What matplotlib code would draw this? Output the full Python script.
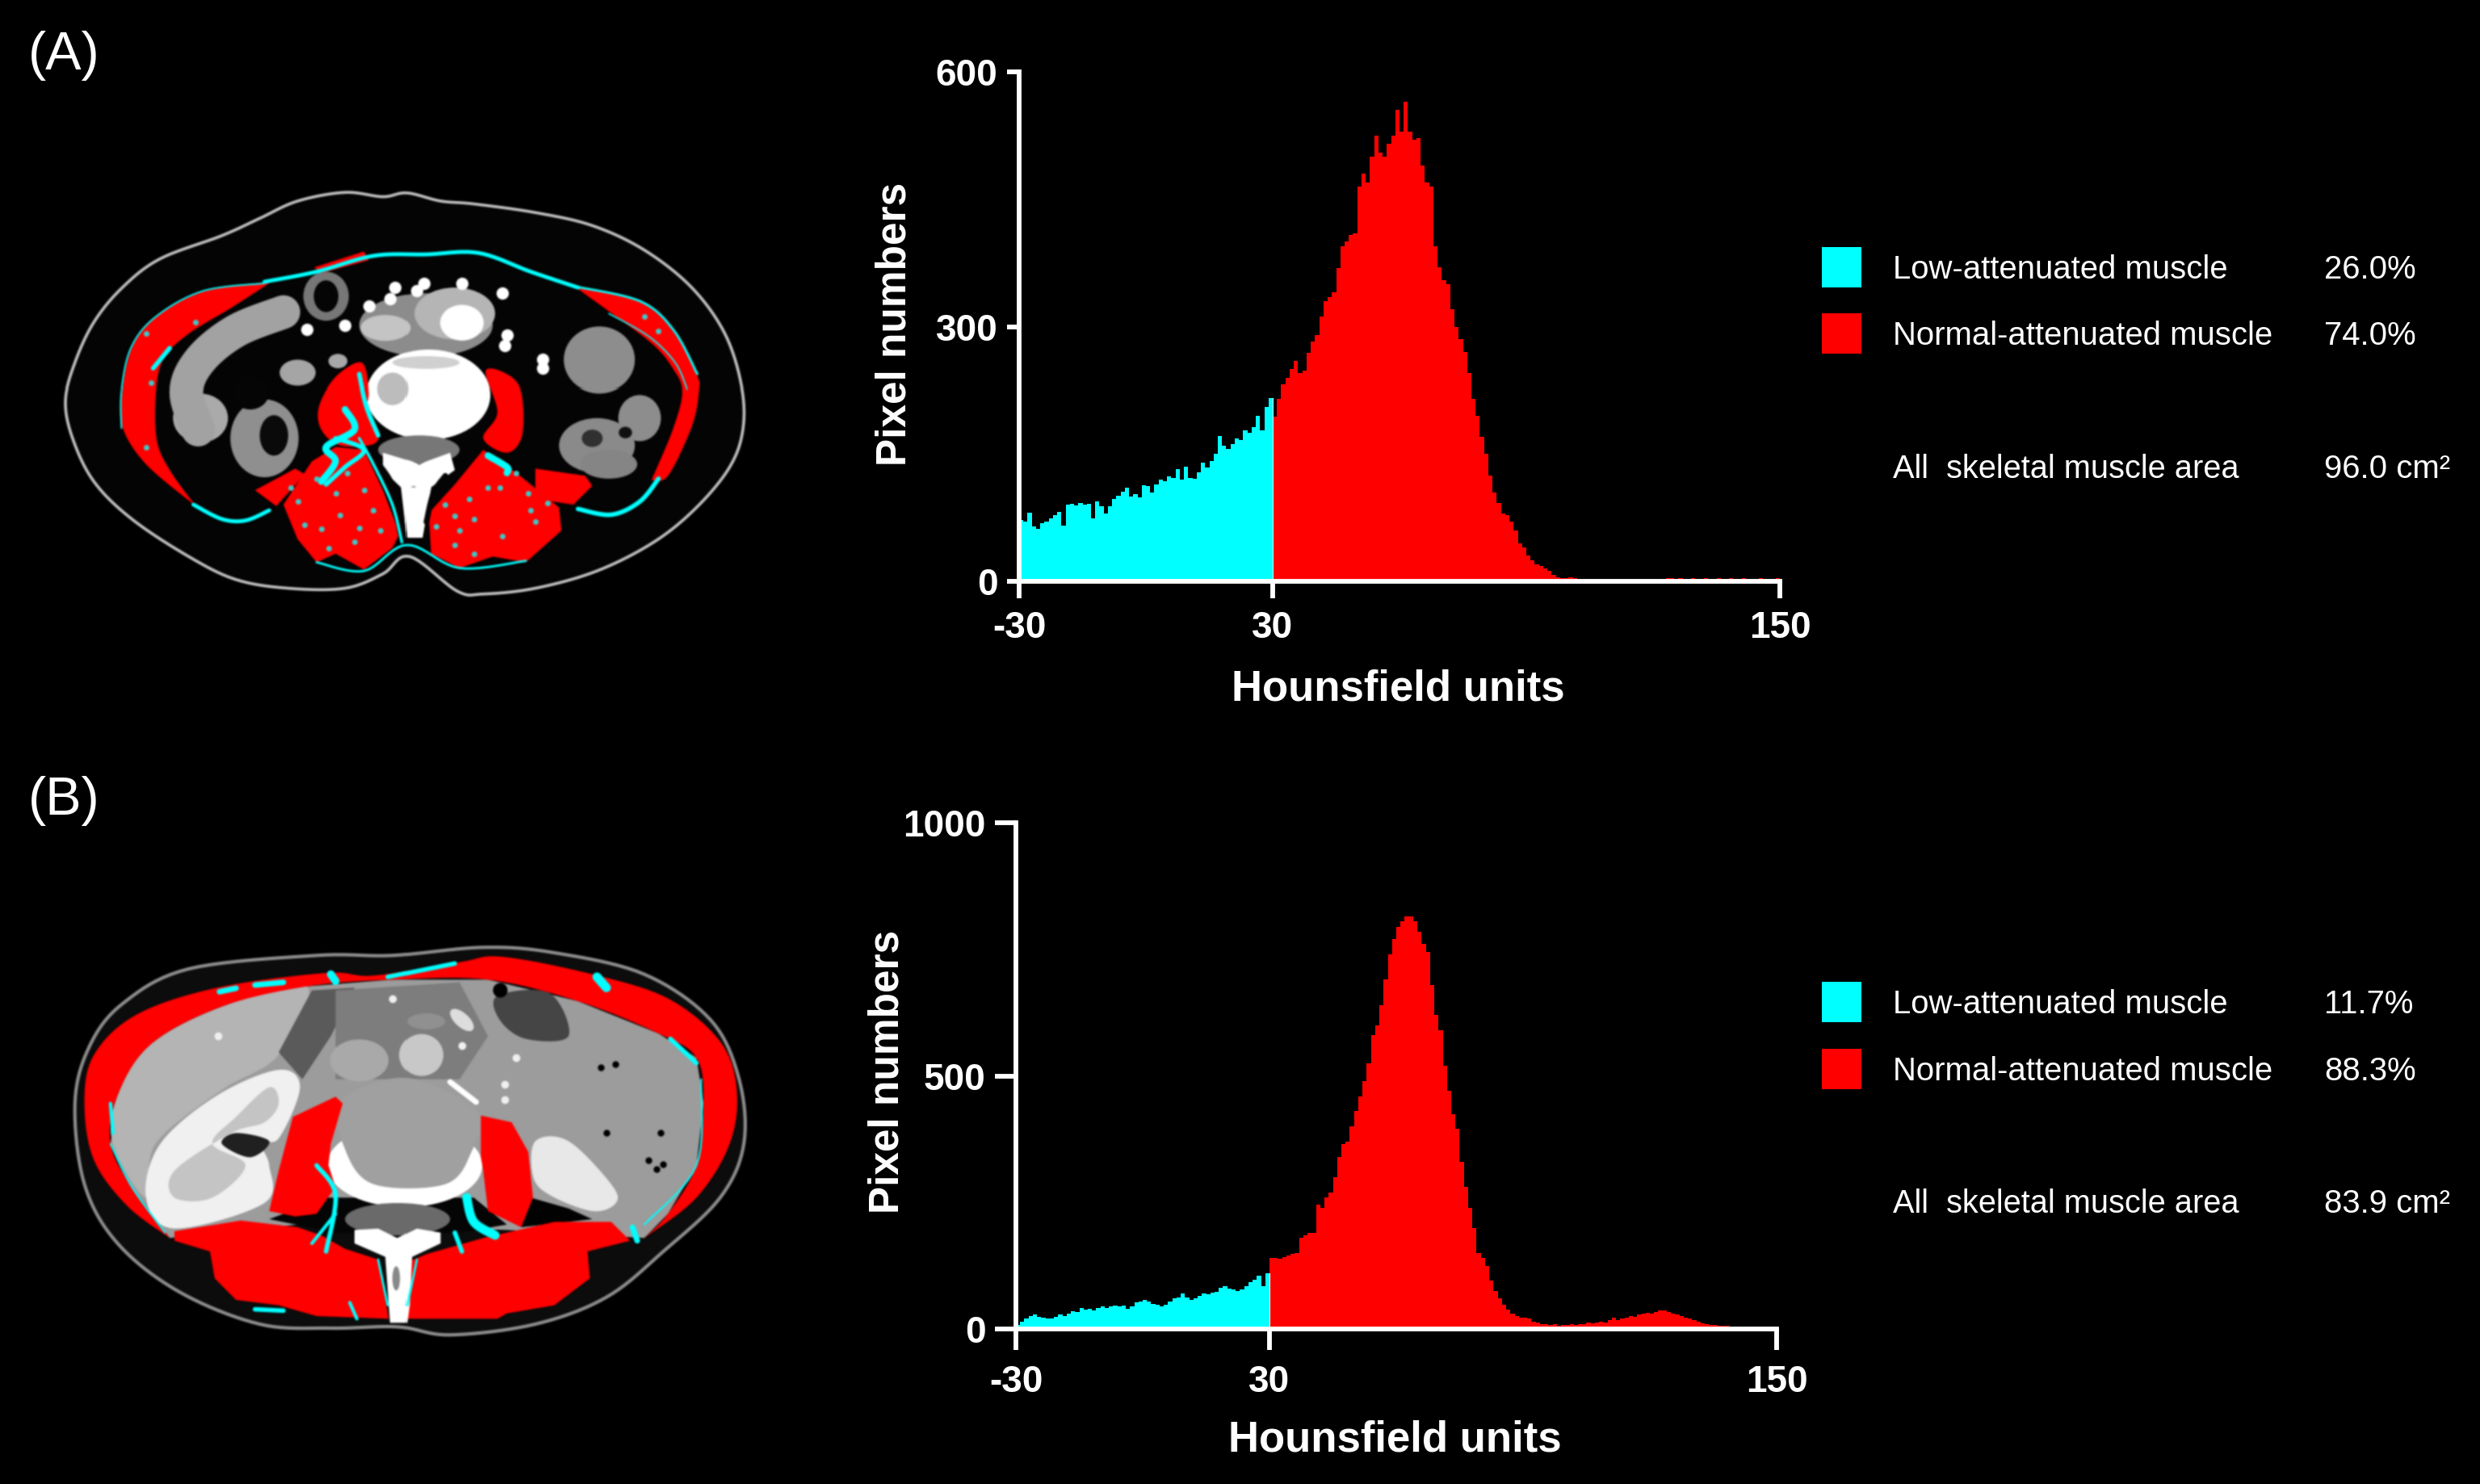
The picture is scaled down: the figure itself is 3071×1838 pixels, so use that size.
import numpy as np
import matplotlib
matplotlib.use("Agg")
import matplotlib.pyplot as plt
from matplotlib.patches import Ellipse, Polygon, Rectangle

W, H = 3071, 1838
plt.rcParams['font.family'] = ['Liberation Sans', 'DejaVu Sans']
plt.rcParams['axes.unicode_minus'] = False

CYAN = '#00FFFF'
RED = '#FF0000'

# ---------- histogram data (pixel counts per 1 HU bin) ----------
a_low = [72,70,81,65,62,68,70,74,78,82,
         66,90,91,89,92,90,91,74,94,88,
         80,88,97,101,106,110,100,103,99,113,
         112,105,114,120,118,124,122,132,120,135,
         122,121,128,140,134,142,150,171,160,156,
         162,168,166,178,175,182,195,178,205,216]
a_high = [194,215,232,240,250,260,245,248,269,282,
          290,312,330,335,340,369,395,400,408,410,
          465,480,470,500,525,505,500,515,525,555,
          530,565,530,520,522,490,470,465,395,370,
          355,350,320,300,285,270,245,215,195,170,
          150,125,105,92,80,78,70,60,45,40,
          30,25,20,18,15,12,8,5,4,4,
          5,4,3,2,2,1,1,1,1,0,
          1,1,0,1,1,0,1,1,1,1,
          1,1,3,4,4,3,4,3,3,4,
          3,3,4,3,3,4,3,3,4,3,
          3,4,3,3,3,4,3,3,3,4]
b_low = [8,15,20,25,28,24,22,20,20,24,
         28,25,30,35,33,42,38,40,36,42,
         45,42,44,46,44,46,40,45,52,55,
         58,55,50,48,45,48,55,60,62,70,
         62,58,60,66,70,68,72,74,82,84,
         80,78,75,78,85,92,98,105,85,110]
b_high = [140,140,138,142,145,148,150,180,185,190,
          190,245,240,260,270,300,340,365,370,400,
          430,460,490,525,580,600,640,690,740,770,
          795,805,815,815,805,785,760,745,680,620,
          590,520,470,425,395,330,280,240,200,150,
          140,125,95,75,60,48,38,30,25,22,
          22,20,15,12,10,9,8,9,7,8,
          8,9,8,9,10,12,11,12,15,12,
          18,22,18,20,22,26,24,28,30,32,
          30,34,36,36,34,30,28,26,22,20,
          18,14,11,10,8,8,7,7,6,5,
          4,3,3,2,2,2,2,1,1,4]

x_ticks = [-30, 30, 150]
a_yticks = [0, 300, 600]
b_yticks = [0, 500, 1000]
legend_names = ['Low-attenuated muscle', 'Normal-attenuated muscle']
a_pct = ['26.0%', '74.0%']
b_pct = ['11.7%', '88.3%']
a_area = '96.0 cm\u00b2'
b_area = '83.9 cm\u00b2'

fig = plt.figure(figsize=(W/100, H/100), dpi=100, facecolor='black')


def T(x, y, s, **kw):
    kw.setdefault('color', 'white')
    kw.setdefault('va', 'center')
    fig.text(x/W, 1-y/H, s, **kw)


def px_axes(x0, y0, x1, y1):
    return fig.add_axes([x0/W, 1-y1/H, (x1-x0)/W, (y1-y0)/H])


def hist_panel(box, low, high, ymax, yticks, ytick_len, xtick_len, xpad, xlab_y, ylab_x, ylab_y, xlab_x):
    ax = px_axes(*box)
    ax.set_facecolor('black')
    ax.stairs(low, -30 + np.arange(len(low)+1), fill=True, color=CYAN, lw=0)
    ax.stairs(high, 30 + np.arange(len(high)+1), fill=True, color=RED, lw=0)
    ax.plot([30, 30], [0, low[-1]], color='#dddddd', lw=0.9)
    ax.set_xlim(-30, 150)
    ax.set_ylim(0, ymax)
    ax.set_xticks(x_ticks)
    ax.set_yticks(yticks)
    for s in ('top', 'right'):
        ax.spines[s].set_visible(False)
    for s in ('left', 'bottom'):
        ax.spines[s].set_color('white')
        ax.spines[s].set_linewidth(4.2)
    ax.tick_params(axis='x', length=xtick_len, width=4.2, color='white', labelcolor='white',
                   labelsize=33, pad=xpad)
    ax.tick_params(axis='y', length=ytick_len, width=4.2, color='white', labelcolor='white',
                   labelsize=33, pad=8)
    for lab in ax.get_xticklabels() + ax.get_yticklabels():
        lab.set_fontweight('bold')
    T(xlab_x, xlab_y, 'Hounsfield units', ha='center', fontsize=38, fontweight='bold')
    T(ylab_x, ylab_y, 'Pixel numbers', ha='center', rotation=90, fontsize=37, fontweight='bold')
    return ax


hist_panel((1262, 89, 2204, 720), a_low, a_high, 600, a_yticks, 11, 15, 11, 854, 1108, 401, 1731)
hist_panel((1258, 1019, 2200, 1646), b_low, b_high, 1000, b_yticks, 19, 19, 13, 1784, 1099, 1327, 1727)


def legend(ys, pct, area):
    for y, col, name, p in zip(ys[:2], (CYAN, RED), legend_names, pct):
        fig.patches.append(Rectangle((2256/W, 1-(y+25)/H), 49/W, 50/H, transform=fig.transFigure,
                                     facecolor=col, edgecolor='none'))
        T(2344, y+3, name, fontsize=28.9)
        T(2878, y+3, p, fontsize=28.9)
    T(2344, ys[2]+3, 'All  skeletal muscle area', fontsize=28.6)
    T(2878, ys[2]+3, area, fontsize=28.9)


legend((331, 413, 578), a_pct, a_area)
legend((1241, 1324, 1488), b_pct, b_area)

T(35, 69, '(A)', fontsize=48)
T(35, 992, '(B)', fontsize=48)


# ---------- schematic CT slices, drawn in crop coordinates ----------
def smooth(pts, closed=True, n=10):
    p = np.asarray(pts, float)
    m = len(p)
    out = []
    rng = range(m) if closed else range(m-1)
    for i in rng:
        if closed:
            p0, p1, p2, p3 = p[(i-1) % m], p[i], p[(i+1) % m], p[(i+2) % m]
        else:
            p0, p1, p2, p3 = p[max(i-1, 0)], p[i], p[i+1], p[min(i+2, m-1)]
        for t in np.linspace(0, 1, n, endpoint=False):
            out.append(0.5*((2*p1) + (-p0+p2)*t + (2*p0-5*p1+4*p2-p3)*t**2 + (-p0+3*p1-3*p2+p3)*t**3))
    if not closed:
        out.append(p[-1])
    return np.array(out)


def blob(ax, pts, color, sm=True):
    xy = smooth(pts) if sm else np.asarray(pts)
    ax.add_patch(Polygon(xy, closed=True, facecolor=color, edgecolor='none', lw=0))


def band(ax, outer, inner, color):
    xy = np.vstack([smooth(outer, closed=False), smooth(inner, closed=False)[::-1]])
    ax.add_patch(Polygon(xy, closed=True, facecolor=color, edgecolor='none', lw=0))


def ell(ax, x, y, rx, ry, color, angle=0):
    ax.add_patch(Ellipse((x, y), 2*rx, 2*ry, angle=angle, facecolor=color, edgecolor='none'))


def line(ax, pts, color=CYAN, lw=3, sm=True):
    xy = smooth(pts, closed=False) if sm else np.asarray(pts)
    ax.plot(xy[:, 0], xy[:, 1], color=color, lw=lw, solid_capstyle='round')


def dots(ax, pts, color, size):
    a = np.asarray(pts)
    ax.plot(a[:, 0], a[:, 1], ls='none', marker='o', ms=size, mfc=color, mec='none')


def ct_canvas(w, h, ymax):
    f = plt.figure(figsize=(w/100, h/100), dpi=100, facecolor='black')
    a = f.add_axes([0, 0, 1, 1])
    a.set_xlim(0, 1568); a.set_ylim(ymax, 0); a.axis('off')
    return f, a


def place_ct(f, box):
    f.canvas.draw()
    img = np.asarray(f.canvas.buffer_rgba())[:, :, :3].astype(float)
    k = [(-2, 1), (-1, 4), (0, 6), (1, 4), (2, 1)]
    for axis in (0, 1):
        img = sum(wt*np.roll(img, s, axis=axis) for s, wt in k)/16
    plt.close(f)
    ax = px_axes(*box)
    ax.imshow(img.astype(np.uint8), aspect='auto', interpolation='nearest')
    ax.axis('off')


# ----- slice A -----
fa, ca = ct_canvas(920, 560, 1568)
body_a = [(70,830),(90,700),(130,560),(190,440),(270,340),(400,260),(480,200),(560,140),(660,110),
          (740,125),(790,112),(860,140),(930,150),(1060,180),(1180,225),(1290,310),(1390,440),(1460,600),
          (1495,780),(1498,930),(1470,1060),(1400,1200),(1310,1320),(1190,1420),(1060,1480),(950,1500),
          (895,1490),(795,1370),(740,1430),(660,1480),(540,1480),(430,1450),(330,1370),(210,1240),(130,1110),(85,960)]
ca.add_patch(Polygon(smooth(body_a), closed=True, facecolor='#040404', edgecolor='#c0c0c0', lw=2.6))
# bowel and viscera
line(ca, [(530,525),(430,590),(355,690),(325,800),(350,930)], '#a2a2a2', 30)
for e in [(355,890,58,85,'#aaaaaa'),(490,960,72,135,'#8f8f8f'),(500,535,55,32,'#a6a6a6'),
          (560,735,38,45,'#a5a5a5'),(645,695,20,25,'#a8a8a8'),
          (1195,690,75,115,'#8d8d8d'),(1280,890,45,80,'#8d8d8d'),(1190,985,80,95,'#8a8a8a'),(1215,1050,60,50,'#858585'),
          (830,570,140,110,'#8c8c8c'),(745,580,52,45,'#c4c4c4'),(890,530,85,90,'#b5b5b5'),(905,562,46,62,'#ffffff'),
          (620,470,48,85,'#777777'),(620,470,26,55,'#050505'),(510,950,30,70,'#0a0a0a'),
          (460,800,40,60,'#050505'),(1180,960,22,30,'#303030'),(1250,940,14,20,'#101010')]:
    ell(ca, *e)
dots(ca, [(710,505),(755,480),(810,450),(580,585),(660,570),(995,640),(990,460),(765,440),(825,425),(905,425),(1000,605),(1075,690),(1075,720)],
     'white', 11)
# bone
ell(ca, 835, 810, 130, 155, 'white')
ell(ca, 760, 790, 32, 55, '#bcbcbc')
ell(ca, 830, 700, 70, 22, '#d0d0d0')
ell(ca, 815, 1000, 85, 50, '#777777')
blob(ca, [(740,1010),(800,1040),(815,1052),(830,1040),(880,1010),(890,1070),(840,1130),(822,1300),(790,1300),(778,1130),(740,1070)],
     'white', sm=False)
ell(ca, 803, 1150, 9, 25, '#888888')
# abdominal wall muscle
band(ca, [(500,420),(360,455),(260,545),(210,650),(190,800),(190,920),(240,1050),(345,1195)],
     [(500,425),(420,510),(330,600),(280,680),(262,780),(262,960),(290,1070),(345,1195)], RED)
band(ca, [(1150,440),(1280,490),(1350,590),(1400,740),(1405,800),(1390,920),(1340,1090),(1305,1105)],
     [(1150,445),(1230,540),(1310,640),(1350,720),(1370,800),(1350,930),(1305,1105)], RED)
blob(ca, [(595,370),(700,315),(710,345),(610,390)], RED, sm=False)
# psoas and paraspinal muscle
blob(ca, [(695,700),(710,800),(705,870),(730,930),(720,980),(650,985),(610,930),(605,850),(640,750)], RED)
blob(ca, [(955,730),(1000,740),(1030,800),(1032,950),(1000,1010),(950,960),(980,870)], RED)
blob(ca, [(555,1065),(470,1140),(515,1195),(575,1085)], RED, sm=False)
blob(ca, [(1060,1065),(1165,1090),(1180,1125),(1140,1190),(1060,1170)], RED, sm=False)
blob(ca, [(590,1040),(530,1190),(560,1310),(600,1390),(640,1360),(700,1415),(760,1340),(775,1290),(740,1140),(700,1000),(640,990)],
     RED, sm=False)
blob(ca, [(950,1000),(1020,1080),(1110,1200),(1115,1280),(1040,1390),(970,1370),(900,1410),(840,1360),(835,1220),(890,1120)],
     RED, sm=False)
# re-draw spinous process over muscle
blob(ca, [(780,1130),(840,1130),(822,1305),(790,1305)], 'white', sm=False)
line(ca, [(725,1040),(760,1130),(778,1290)], '#050505', 6)
line(ca, [(870,1090),(845,1150),(830,1250)], '#050505', 5)
# low-attenuation rim and mottling
for seg, w in [([(490,420),(600,385),(720,330),(830,325),(940,320),(1050,385),(1150,440)], 3.5),
               ([(340,1190),(400,1240),(450,1245),(500,1210)], 3.5),
               ([(1150,1205),(1220,1225),(1280,1180),(1320,1100)], 4),
               ([(490,425),(360,452),(260,542),(208,650),(188,800),(188,925)], 1.4),
               ([(1150,438),(1282,488),(1352,588),(1402,740)], 2),
               ([(1215,530),(1300,610),(1355,700),(1380,790)], 1.2),
               ([(255,720),(290,650)], 4),
               ([(690,740),(705,850),(730,950)], 4),
               ([(660,860),(680,930),(620,990),(640,1040),(610,1110)], 6),
               ([(640,960),(700,1000),(660,1060),(620,1120)], 4),
               ([(690,960),(720,1050),(760,1190),(780,1320)], 2.5),
               ([(960,1020),(1000,1060),(1000,1080)], 6),
               ([(600,1390),(700,1420),(790,1330),(900,1410),(1040,1385)], 2)]:
    line(ca, seg, CYAN, w)
dots(ca, [(560,1180),(575,1260),(610,1275),(650,1225),(680,1320),(720,1210),(735,1280),(640,1150),(600,1100),(665,1080),
          (850,1265),(890,1330),(930,1360),(920,1170),(985,1130),(1045,1150),(1085,1185),(1020,1080),(960,1130),(900,1280),
          (545,1130),(625,1340),(690,1270),(700,1140),(930,1240),(990,1300),(1060,1250),(1050,1210),(890,1230),(870,1190),
          (240,600),(345,560),(240,990),(250,770),(1290,540),(1320,590)],
     '#3ec8c8', 5)

place_ct(fa, (40, 200, 960, 760))

# ----- slice B -----
fb, cb = ct_canvas(920, 520, 1560)
body_b = [(90,650),(120,440),(190,280),(330,150),(600,100),(760,100),(950,70),(1100,90),(1290,170),(1430,340),
          (1490,560),(1500,800),(1450,1000),(1330,1200),(1210,1370),(1060,1470),(880,1510),(770,1480),(630,1485),
          (480,1470),(310,1350),(180,1170),(110,950)]
cb.add_patch(Polygon(smooth(body_b), closed=True, facecolor='#0c0c0c', edgecolor='#8c8c8c', lw=3))
ring_outer = [(290,1150),(200,1030),(130,860),(110,650),(130,470),(220,320),(390,220),(620,165),(720,175),(900,125),(990,105),
              (1180,170),(1340,260),(1450,420),(1485,600),(1470,800),(1400,1000),(1290,1150)]
ring_inner = [(290,1150),(210,960),(165,800),(180,620),(250,430),(400,290),(580,215),(760,190),(960,190),(1150,270),(1320,390),
              (1400,480),(1415,650),(1400,880),(1340,1060),(1290,1150)]
# contents first, then the ring over them
blob(cb, ring_inner + [(1000,1120),(560,1100)], '#9c9c9c', sm=False)
blob(cb, [(180,620),(250,430),(400,290),(580,215),(520,470),(400,600),(260,800),(240,1000),(170,800)], '#b4b4b4')
blob(cb, [(520,460),(590,230),(680,220),(630,400),(570,560)], '#5a5a5a', sm=False)
blob(cb, [(640,230),(900,200),(960,400),(900,560),(640,560)], '#7d7d7d', sm=False)
blob(cb, [(980,250),(1090,240),(1130,400),(1040,410),(985,340)], '#454545')
blob(cb, [(1050,1000),(1130,1040),(1180,1080),(1030,1110)], '#020202', sm=False)
blob(cb, [(620,1000),(500,1080),(640,1130),(900,1130),(1000,1100),(930,1000)], '#050505', sm=False)
ell(cb, 690, 490, 62, 78, '#a9a9a9')
ell(cb, 820, 470, 46, 78, '#c8c8c8')
ell(cb, 905, 340, 18, 45, '#dddddd', angle=-25)
ell(cb, 830, 345, 40, 30, '#909090')
line(cb, [(880,570),(935,645)], 'white', 5)
dots(cb, [(392,398),(1020,480),(905,435),(995,580),(995,635),(760,260)], '#f0f0f0', 7)
dots(cb, [(985,228)], 'black', 13)
dots(cb, [(1198,515),(1228,505),(1210,760),(1325,760),(1298,860),(1315,895),(1330,875)], 'black', 6)
# kidneys
blob(cb, [(520,525),(565,590),(520,780),(480,790),(500,880),(490,1020),(300,1115),(240,1000),(270,800),(390,620)], '#f0f0f0')
blob(cb, [(500,590),(520,650),(490,720),(420,760),(300,900),(300,1000),(380,1000),(450,880),(380,800),(430,700)], '#c4c4c4')
blob(cb, [(430,760),(500,790),(460,850),(400,800)], '#202020')
blob(cb, [(1060,790),(1130,790),(1220,950),(1230,1020),(1180,1050),(1090,990),(1055,920)], '#e8e8e8')
# vertebra
ell(cb, 785, 880, 163, 155, 'white')
blob(cb, [(650,640),(790,555),(940,680),(925,830),(870,950),(720,950),(660,820)], '#a0a0a0')
ell(cb, 770, 1080, 110, 60, '#6a6a6a')
band(cb, ring_outer, ring_inner, RED)
# posterior muscle
blob(cb, [(640,625),(655,650),(630,800),(625,880),(640,960),(600,1060),(555,1070),(500,1050),(520,900),(550,700)], RED, sm=False)
blob(cb, [(945,695),(1010,720),(1045,830),(1055,1000),(1030,1110),(960,1050),(950,900),(945,850)], RED, sm=False)
blob(cb, [(300,1125),(440,1085),(560,1110),(610,1140),(660,1190),(730,1230),(752,1450),(600,1440),(520,1400),(430,1380),(385,1300),
          (375,1200),(300,1160)], RED, sm=False)
blob(cb, [(785,1450),(790,1240),(830,1210),(950,1150),(1100,1090),(1220,1090),(1260,1160),(1170,1200),(1175,1300),(1100,1400),
          (1000,1430),(980,1450)], RED, sm=False)
blob(cb, [(680,1120),(730,1115),(770,1150),(810,1115),(860,1130),(860,1170),(800,1220),(795,1400),(790,1465),(755,1465),
          (745,1220),(680,1170)], 'white', sm=False)
ell(cb, 768, 1300, 8, 45, '#888888')
for seg, w in [([(165,650),(170,760)], 3), ([(1345,410),(1400,500)], 4), ([(1190,180),(1210,220)], 8),
               ([(630,170),(640,195)], 7), ([(395,235),(430,222)], 5), ([(470,210),(530,200)], 5),
               ([(750,180),(890,130)], 4), ([(600,880),(640,990),(620,1200)], 4), ([(640,1060),(590,1170)], 3),
               ([(915,1000),(930,1090),(975,1140)], 8), ([(890,1130),(905,1200)], 4),
               ([(470,1415),(530,1420)], 4), ([(730,1230),(750,1400)], 2), ([(810,1230),(790,1400)], 2),
               ([(1410,560),(1400,880),(1290,1100)], 1.5), ([(165,800),(210,960),(280,1130)], 1.5),
               ([(1265,1110),(1275,1160)], 5), ([(670,1390),(685,1450)], 3)]:
    line(cb, seg, CYAN, w)

place_ct(fb, (40, 1150, 960, 1670))

fig.savefig('out.png', dpi=100, facecolor='black')
